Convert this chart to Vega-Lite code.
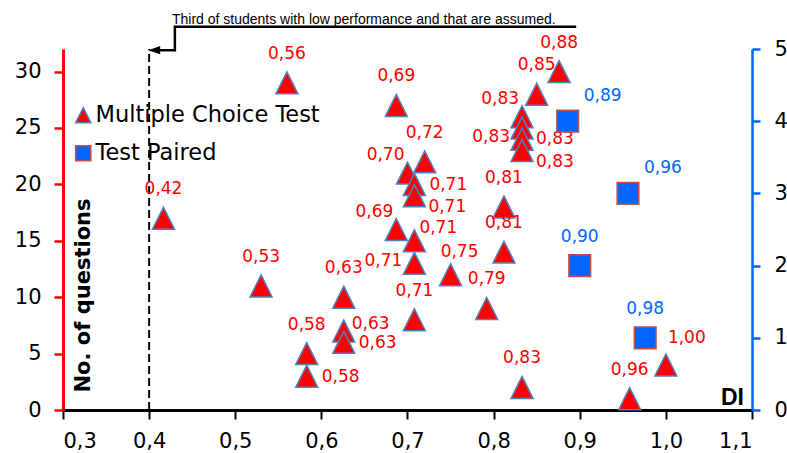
{
  "$schema": "https://vega.github.io/schema/vega-lite/v6.json",
  "width": 689,
  "height": 361,
  "autosize": "none",
  "padding": {"left": 63, "top": 49, "right": 35, "bottom": 43},
  "background": "white",
  "config": {
    "view": {"stroke": null},
    "font": "DejaVu Sans",
    "locale": {"number": {"decimal": ",", "thousands": ".", "grouping": [3], "currency": ["", " €"]}},
    "axis": {"grid": false, "labelFont": "DejaVu Sans", "labelFontSize": 21, "labelColor": "#000000", "titleFont": "DejaVu Sans", "titleColor": "#000000"}
  },
  "datasets": {
    "mc": [
      {"di": 0.4167, "q": 17, "pos": "above", "series": "Multiple Choice Test"},
      {"di": 0.56, "q": 29, "pos": "above", "series": "Multiple Choice Test"},
      {"di": 0.687, "q": 27, "pos": "above", "series": "Multiple Choice Test"},
      {"di": 0.53, "q": 11, "pos": "above", "series": "Multiple Choice Test"},
      {"di": 0.626, "q": 10, "pos": "above", "series": "Multiple Choice Test"},
      {"di": 0.626, "q": 7, "pos": "rup", "series": "Multiple Choice Test"},
      {"di": 0.626, "q": 6, "pos": "right", "series": "Multiple Choice Test"},
      {"di": 0.583, "q": 5, "pos": "above", "series": "Multiple Choice Test"},
      {"di": 0.583, "q": 3, "pos": "right", "series": "Multiple Choice Test"},
      {"di": 0.70, "q": 21, "pos": "upleft", "series": "Multiple Choice Test"},
      {"di": 0.72, "q": 22, "pos": "above", "series": "Multiple Choice Test"},
      {"di": 0.708, "q": 20, "pos": "right", "series": "Multiple Choice Test"},
      {"di": 0.708, "q": 19, "pos": "downright", "series": "Multiple Choice Test"},
      {"di": 0.687, "q": 16, "pos": "upleft", "series": "Multiple Choice Test"},
      {"di": 0.708, "q": 15, "pos": "ene", "series": "Multiple Choice Test"},
      {"di": 0.708, "q": 13, "pos": "left", "series": "Multiple Choice Test"},
      {"di": 0.75, "q": 12, "pos": "aboveright", "series": "Multiple Choice Test"},
      {"di": 0.708, "q": 8, "pos": "above", "series": "Multiple Choice Test"},
      {"di": 0.792, "q": 9, "pos": "above", "series": "Multiple Choice Test"},
      {"di": 0.812, "q": 18, "pos": "above", "series": "Multiple Choice Test"},
      {"di": 0.812, "q": 14, "pos": "above", "series": "Multiple Choice Test"},
      {"di": 0.833, "q": 2, "pos": "above", "series": "Multiple Choice Test"},
      {"di": 0.833, "q": 26, "pos": "upleft", "series": "Multiple Choice Test"},
      {"di": 0.833, "q": 25, "pos": "downright", "series": "Multiple Choice Test"},
      {"di": 0.833, "q": 24, "pos": "left", "series": "Multiple Choice Test"},
      {"di": 0.833, "q": 23, "pos": "downright", "series": "Multiple Choice Test"},
      {"di": 0.85, "q": 28, "pos": "above", "series": "Multiple Choice Test"},
      {"di": 0.876, "q": 30, "pos": "above", "series": "Multiple Choice Test"},
      {"di": 0.958, "q": 1, "pos": "above", "series": "Multiple Choice Test"},
      {"di": 1.0, "q": 4, "pos": "ne", "series": "Multiple Choice Test"}
    ],
    "tp": [
      {"di": 0.886, "n": 4, "pos": "ne", "series": "Test Paired"},
      {"di": 0.956, "n": 3, "pos": "ne", "series": "Test Paired"},
      {"di": 0.90, "n": 2, "pos": "above", "series": "Test Paired"},
      {"di": 0.976, "n": 1, "pos": "above", "series": "Test Paired"}
    ],
    "threshold": [
      {"di": 0.4, "q": 0, "q2": 32}
    ],
    "connector": [
      {"i": 1, "di": 0.4129, "q": 31.9},
      {"i": 2, "di": 0.4299, "q": 31.9},
      {"i": 3, "di": 0.4299, "q": 33.97},
      {"i": 4, "di": 0.8944, "q": 33.97}
    ],
    "arrowhead": [
      {"di": 0.4059, "q": 31.9}
    ],
    "note": [
      {"di": 0.4265, "q": 34.25, "label": "Third of students with low performance and that are assumed."}
    ]
  },
  "encoding": {
    "x": {
      "field": "di",
      "type": "quantitative",
      "scale": {"domain": [0.3, 1.1], "nice": false, "zero": false},
      "axis": {
        "values": [0.3, 0.4, 0.5, 0.6, 0.7, 0.8, 0.9, 1.0, 1.1],
        "format": ".1f",
        "labelFont": "DejaVu Sans",
        "labelFontSize": 21,
        "labelColor": "#000000",
        "domainColor": "#000000",
        "domainWidth": 3,
        "tickColor": "#000000",
        "tickWidth": 2,
        "tickSize": 9,
        "labelPadding": 11,
        "title": "DI",
        "titleFont": "Liberation Sans",
        "titleFontSize": 23,
        "titleFontWeight": "bold",
        "titleX": 669,
        "titleY": -24,
        "titleAlign": "center",
        "titleBaseline": "top"
      }
    }
  },
  "layer": [
    {
      "encoding": {
        "y": {
          "field": "q",
          "type": "quantitative",
          "scale": {"domain": [0, 32], "nice": false, "zero": true},
          "axis": {
            "orient": "left",
            "values": [0, 5, 10, 15, 20, 25, 30],
            "labelFont": "DejaVu Sans",
            "labelFontSize": 21,
            "labelColor": "#000000",
            "domainColor": "#FF0000",
            "domainWidth": 3,
            "tickColor": "#FF0000",
            "tickWidth": 2.5,
            "tickSize": 9,
            "labelPadding": 13,
            "title": "No. of questions",
            "titleFont": "DejaVu Sans",
            "titleFontSize": 21,
            "titleFontWeight": "bold",
            "titleAngle": 270,
            "titleX": 26,
            "titleY": 246,
            "titleAlign": "center",
            "titleBaseline": "alphabetic"
          }
        }
      },
      "layer": [
        {
          "data": {"name": "threshold"},
          "mark": {"type": "rule", "strokeDash": [8, 4], "strokeWidth": 2, "color": "#000000"},
          "encoding": {"y2": {"field": "q2"}}
        },
        {
          "data": {"name": "connector"},
          "mark": {"type": "line", "color": "#000000", "strokeWidth": 2.5, "strokeCap": "square"},
          "encoding": {"order": {"field": "i", "type": "quantitative"}}
        },
        {
          "data": {"name": "arrowhead"},
          "mark": {"type": "point", "shape": "M-1,0L1,-0.7L1,0.7Z", "size": 144, "filled": true, "color": "#000000", "opacity": 1},
          "encoding": {}
        },
        {
          "data": {"name": "note"},
          "mark": {"type": "text", "font": "Liberation Sans", "fontSize": 14, "align": "left", "baseline": "alphabetic", "color": "#000000"},
          "encoding": {"text": {"field": "label"}}
        },
        {
          "data": {"name": "mc"},
          "mark": {"type": "point", "filled": true, "size": 484, "strokeWidth": 1.5, "opacity": 1},
          "encoding": {
            "color": {"field": "series", "type": "nominal", "scale": {"domain": ["Multiple Choice Test", "Test Paired"], "range": ["#FF0000", "#0066FF"]}, "legend": {"title": null, "orient": "none", "legendX": 9, "legendY": 55, "labelFont": "DejaVu Sans", "labelFontSize": 22.5, "labelLimit": 0, "labelColor": "#000000", "symbolSize": 230, "symbolStrokeWidth": 1.5, "rowPadding": 15, "labelOffset": 1, "padding": 0}},
            "shape": {"field": "series", "type": "nominal", "scale": {"domain": ["Multiple Choice Test", "Test Paired"], "range": ["M0,-1L1,1L-1,1Z", "square"]}, "legend": {"title": null, "orient": "none", "legendX": 9, "legendY": 55, "labelFont": "DejaVu Sans", "labelFontSize": 22.5, "labelLimit": 0, "labelColor": "#000000", "symbolSize": 230, "symbolStrokeWidth": 1.5, "rowPadding": 15, "labelOffset": 1, "padding": 0}},
            "stroke": {"field": "series", "type": "nominal", "scale": {"domain": ["Multiple Choice Test", "Test Paired"], "range": ["#4F81BD", "#C0504D"]}, "legend": {"title": null, "orient": "none", "legendX": 9, "legendY": 55, "labelFont": "DejaVu Sans", "labelFontSize": 22.5, "labelLimit": 0, "labelColor": "#000000", "symbolSize": 230, "symbolStrokeWidth": 1.5, "rowPadding": 15, "labelOffset": 1, "padding": 0}}
          }
        },
        {
          "data": {"name": "mc"},
          "transform": [{"filter": "datum.pos == 'above'"}],
          "mark": {"type": "text", "fontSize": 17, "color": "#FF0000", "align": "center", "baseline": "middle", "dy": -29},
          "encoding": {"text": {"field": "di", "type": "quantitative", "format": ".2f"}}
        },
        {
          "data": {"name": "mc"},
          "transform": [{"filter": "datum.pos == 'aboveright'"}],
          "mark": {"type": "text", "fontSize": 17, "color": "#FF0000", "align": "center", "baseline": "middle", "dx": 9, "dy": -23},
          "encoding": {"text": {"field": "di", "type": "quantitative", "format": ".2f"}}
        },
        {
          "data": {"name": "mc"},
          "transform": [{"filter": "datum.pos == 'right'"}],
          "mark": {"type": "text", "fontSize": 17, "color": "#FF0000", "align": "left", "baseline": "middle", "dx": 15, "dy": 1},
          "encoding": {"text": {"field": "di", "type": "quantitative", "format": ".2f"}}
        },
        {
          "data": {"name": "mc"},
          "transform": [{"filter": "datum.pos == 'rup'"}],
          "mark": {"type": "text", "fontSize": 17, "color": "#FF0000", "align": "left", "baseline": "middle", "dx": 8, "dy": -7},
          "encoding": {"text": {"field": "di", "type": "quantitative", "format": ".2f"}}
        },
        {
          "data": {"name": "mc"},
          "transform": [{"filter": "datum.pos == 'left'"}],
          "mark": {"type": "text", "fontSize": 17, "color": "#FF0000", "align": "right", "baseline": "middle", "dx": -12, "dy": -2},
          "encoding": {"text": {"field": "di", "type": "quantitative", "format": ".2f"}}
        },
        {
          "data": {"name": "mc"},
          "transform": [{"filter": "datum.pos == 'upleft'"}],
          "mark": {"type": "text", "fontSize": 17, "color": "#FF0000", "align": "right", "baseline": "middle", "dx": -3, "dy": -18},
          "encoding": {"text": {"field": "di", "type": "quantitative", "format": ".2f"}}
        },
        {
          "data": {"name": "mc"},
          "transform": [{"filter": "datum.pos == 'downright'"}],
          "mark": {"type": "text", "fontSize": 17, "color": "#FF0000", "align": "left", "baseline": "middle", "dx": 14, "dy": 11},
          "encoding": {"text": {"field": "di", "type": "quantitative", "format": ".2f"}}
        },
        {
          "data": {"name": "mc"},
          "transform": [{"filter": "datum.pos == 'ene'"}],
          "mark": {"type": "text", "fontSize": 17, "color": "#FF0000", "align": "left", "baseline": "middle", "dx": 5, "dy": -13},
          "encoding": {"text": {"field": "di", "type": "quantitative", "format": ".2f"}}
        },
        {
          "data": {"name": "mc"},
          "transform": [{"filter": "datum.pos == 'ne'"}],
          "mark": {"type": "text", "fontSize": 17, "color": "#FF0000", "align": "left", "baseline": "middle", "dx": 2, "dy": -27},
          "encoding": {"text": {"field": "di", "type": "quantitative", "format": ".2f"}}
        }
      ]
    },
    {
      "data": {"name": "tp"},
      "encoding": {
        "y": {
          "field": "n",
          "type": "quantitative",
          "scale": {"domain": [0, 5], "nice": false, "zero": true},
          "axis": {
            "orient": "right",
            "values": [0, 1, 2, 3, 4, 5],
            "labelFont": "DejaVu Sans",
            "labelFontSize": 21,
            "labelColor": "#000000",
            "domainColor": "#0066FF",
            "domainWidth": 2.5,
            "tickColor": "#0066FF",
            "tickWidth": 2.5,
            "tickSize": 8,
            "labelPadding": 14,
            "title": null
          }
        }
      },
      "layer": [
        {
          "mark": {"type": "point", "filled": true, "size": 470, "strokeWidth": 1.5, "opacity": 1},
          "encoding": {
            "color": {"field": "series", "type": "nominal", "scale": {"domain": ["Multiple Choice Test", "Test Paired"], "range": ["#FF0000", "#0066FF"]}, "legend": {"title": null, "orient": "none", "legendX": 9, "legendY": 55, "labelFont": "DejaVu Sans", "labelFontSize": 22.5, "labelLimit": 0, "labelColor": "#000000", "symbolSize": 230, "symbolStrokeWidth": 1.5, "rowPadding": 15, "labelOffset": 1, "padding": 0}},
            "shape": {"field": "series", "type": "nominal", "scale": {"domain": ["Multiple Choice Test", "Test Paired"], "range": ["M0,-1L1,1L-1,1Z", "square"]}, "legend": {"title": null, "orient": "none", "legendX": 9, "legendY": 55, "labelFont": "DejaVu Sans", "labelFontSize": 22.5, "labelLimit": 0, "labelColor": "#000000", "symbolSize": 230, "symbolStrokeWidth": 1.5, "rowPadding": 15, "labelOffset": 1, "padding": 0}},
            "stroke": {"field": "series", "type": "nominal", "scale": {"domain": ["Multiple Choice Test", "Test Paired"], "range": ["#4F81BD", "#C0504D"]}, "legend": {"title": null, "orient": "none", "legendX": 9, "legendY": 55, "labelFont": "DejaVu Sans", "labelFontSize": 22.5, "labelLimit": 0, "labelColor": "#000000", "symbolSize": 230, "symbolStrokeWidth": 1.5, "rowPadding": 15, "labelOffset": 1, "padding": 0}}
          }
        },
        {
          "transform": [{"filter": "datum.pos == 'above'"}],
          "mark": {"type": "text", "fontSize": 17, "color": "#0066FF", "align": "center", "baseline": "middle", "dy": -29},
          "encoding": {"text": {"field": "di", "type": "quantitative", "format": ".2f"}}
        },
        {
          "transform": [{"filter": "datum.pos == 'ne'"}],
          "mark": {"type": "text", "fontSize": 17, "color": "#0066FF", "align": "left", "baseline": "middle", "dx": 16, "dy": -25},
          "encoding": {"text": {"field": "di", "type": "quantitative", "format": ".2f"}}
        }
      ]
    }
  ],
  "resolve": {"scale": {"y": "independent"}}
}
